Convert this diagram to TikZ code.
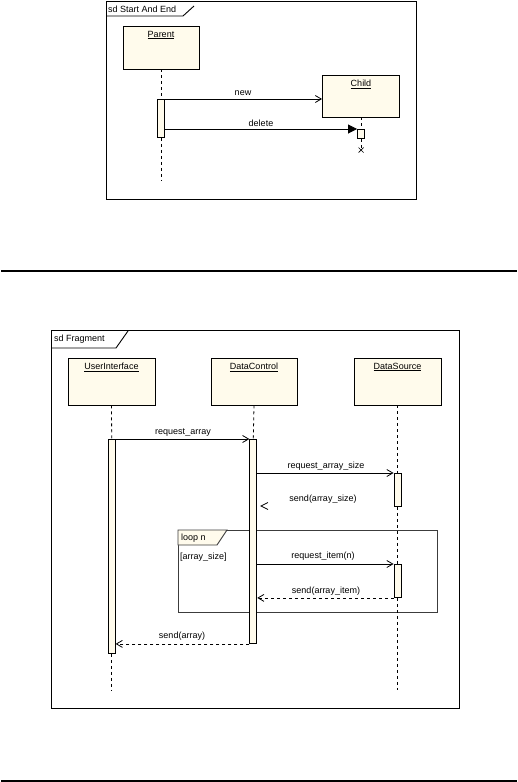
\documentclass[tikz,border=0pt]{standalone}
\usepackage{fontspec}
\setmainfont{Liberation Sans}
\usetikzlibrary{arrows.meta,calc}
\definecolor{objfill}{RGB}{255,251,236}
\definecolor{fragline}{RGB}{60,60,60}
\tikzset{
  objbox/.style={draw, fill=objfill, line width=0.9pt, inner sep=0pt},
  actbar/.style={draw, fill=objfill, line width=0.9pt, inner sep=0pt, minimum width=7pt, anchor=north},
  objtext/.style={font=\fontsize{9}{10}\selectfont, inner sep=0pt},
  msgtext/.style={font=\fontsize{9}{10}\selectfont, inner sep=0pt},
  frameline/.style={draw, line width=0.9pt},
  lifeline/.style={line width=0.8pt, dash pattern=on 3pt off 3pt},
  callmsg/.style={line width=0.8pt, -{Straight Barb[length=6pt,width=7pt]}},
  syncmsg/.style={line width=0.8pt, -{Triangle[length=9pt,width=9pt]}},
  replymsg/.style={line width=0.8pt, dash pattern=on 3pt off 3pt, -{Straight Barb[length=6pt,width=7pt]}},
  sepline/.style={line width=2pt}
}
\begin{document}
\begin{tikzpicture}[x=1pt,y=-1pt]
\useasboundingbox (0,0) rectangle (518,782);
% ===== Top diagram =====
\draw[frameline] (106,1.5) rectangle (416,199);
\draw[frameline] (106,16) -- (183,16) -- (194,6);
\node[objtext, anchor=west] (sd1) at (108,9) {sd Start And End};

\node[objbox, minimum width=76pt, minimum height=43pt] (parent) at (161,47.5) {};
\node[objtext] (parentlbl) at (161,35) {\underline{Parent}};
\node[objbox, minimum width=77pt, minimum height=42pt] (child) at (361,96) {};
\node[objtext] (childlbl) at (361,84) {\underline{Child}};

\node[actbar, minimum height=38pt] (pa) at (161,99) {};
\node[actbar, minimum height=9pt] (ca) at (361,129) {};
\coordinate (pend) at (161,180);
\coordinate (cx) at (361,150);

\draw[lifeline] (parent.south) -- (pa.north);
\draw[lifeline] (pa.south) -- (pend);
\draw[lifeline] (child.south) -- (ca.north);
\draw[lifeline] (ca.south) -- (cx);
\draw[line width=0.7pt] ($(cx)+(-2.5,-2.5)$) -- ($(cx)+(2.5,2.5)$);
\draw[line width=0.7pt] ($(cx)+(-2.5,2.5)$) -- ($(cx)+(2.5,-2.5)$);

\draw[callmsg] (pa.north east) -- (child.west |- pa.north east);
\node[msgtext] (newlbl) at (243,93) {new};
\draw[syncmsg] (pa.east |- ca.north) -- (ca.north west);
\node[msgtext] (dellbl) at (261,123) {delete};

% separators
\draw[sepline] (1,271) -- (517,271);
\draw[sepline] (1,781) -- (517,781);

% ===== Bottom diagram =====
\draw[frameline] (51,330) rectangle (459,708);
\draw[frameline] (51,348) -- (116,348) -- (128,331);
\node[objtext, anchor=west] (sd2) at (54,339.5) {sd Fragment};

\node[objbox, minimum width=87pt, minimum height=47pt] (ui) at (111.5,381.5) {};
\node[objtext] (uilbl) at (111.5,367) {\underline{UserInterface}};
\node[objbox, minimum width=86pt, minimum height=47pt] (dc) at (254,381.5) {};
\node[objtext] (dclbl) at (254,367) {\underline{DataControl}};
\node[objbox, minimum width=87pt, minimum height=47pt] (ds) at (397.5,381.5) {};
\node[objtext] (dslbl) at (397.5,367) {\underline{DataSource}};

% loop fragment
\draw[line width=0.9pt, draw=fragline] (178,530) rectangle (437,612);
\draw[line width=0.9pt, draw=fragline, fill=objfill] (178,530) -- (227,530) -- (217,545) -- (178,545) -- cycle;
\node[msgtext, anchor=west] (looplbl) at (181,538) {loop n};
\node[msgtext, anchor=west] (guard) at (180,557) {[array\_size]};

% lifelines
\coordinate (uiend) at (111.7,690);
\coordinate (dsend) at (397.5,690);
\node[actbar, minimum height=214pt] (uia) at (111.7,439) {};
\node[actbar, minimum height=204pt] (dca) at (253.3,439) {};
\node[actbar, minimum height=33pt] (dsa1) at (397.5,473) {};
\node[actbar, minimum height=33pt] (dsa2) at (397.5,564) {};

\draw[lifeline] (ui.south) -- (uia.north);
\draw[lifeline] (uia.south) -- (uiend);
\draw[lifeline] (dc.south) -- (dca.north);
\draw[lifeline] (ds.south) -- (dsa1.north);
\draw[lifeline] (dsa1.south) -- (dsa2.north);
\draw[lifeline] (dsa2.south) -- (dsend);
% redraw bars on top of lifelines
\node[actbar, minimum height=214pt] at (111.7,439) {};
\node[actbar, minimum height=204pt] at (253.3,439) {};
\node[actbar, minimum height=33pt] at (397.5,473) {};
\node[actbar, minimum height=33pt] at (397.5,564) {};

% messages
\draw[callmsg] (uia.north east) -- (dca.north west);
\node[msgtext] (m1) at (183,433) {request\_array};
\draw[callmsg] (dca.east |- dsa1.north) -- (dsa1.north west);
\node[msgtext] (m2) at (326,466) {request\_array\_size};
\coordinate (rs1) at (268,502.5);
\coordinate (rs2) at (261,506);
\coordinate (rs3) at (268,509.5);
\draw[line width=0.8pt] (rs1) -- (rs2) -- (rs3);
\node[msgtext] (m3) at (323,499) {send(array\_size)};
\draw[callmsg] (dca.east |- dsa2.north) -- (dsa2.north west);
\node[msgtext] (m4) at (323,556) {request\_item(n)};
\draw[replymsg] (dsa2.south west) -- (dca.east |- dsa2.south west);
\node[msgtext] (m5) at (326,591) {send(array\_item)};
\draw[replymsg] (dca.south west) -- (uia.east |- dca.south west);
\node[msgtext] (m6) at (182,636) {send(array)};
\end{tikzpicture}
\end{document}
